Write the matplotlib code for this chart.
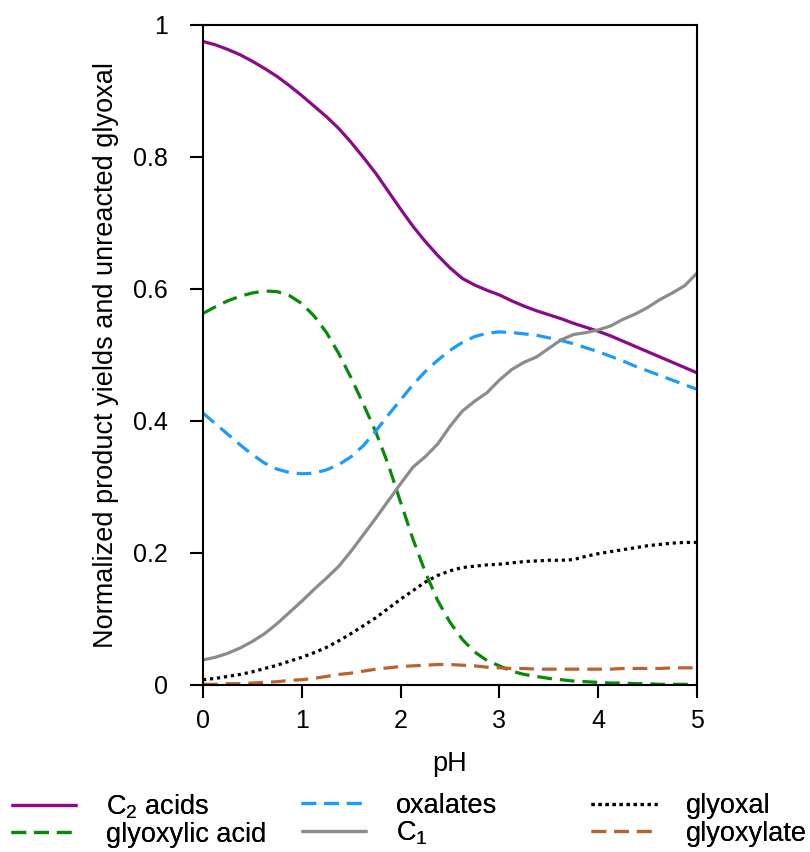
import matplotlib
matplotlib.use("Agg")
import matplotlib.pyplot as plt

plt.rcParams['font.family'] = ['Liberation Sans', 'DejaVu Sans']
plt.rcParams['mathtext.fontset'] = 'custom'
plt.rcParams['mathtext.rm'] = 'Liberation Sans'

ph = [0.0, 0.125, 0.25, 0.375, 0.5, 0.625, 0.75, 0.875, 1.0, 1.125, 1.25,
      1.375, 1.5, 1.625, 1.75, 1.875, 2.0, 2.125, 2.25, 2.375, 2.5, 2.625,
      2.75, 2.875, 3.0, 3.125, 3.25, 3.375, 3.5, 3.625, 3.75, 3.875, 4.0,
      4.125, 4.25, 4.375, 4.5, 4.625, 4.75, 4.875, 5.0]

c2_acids = [0.975, 0.970, 0.963, 0.955, 0.945, 0.934, 0.922, 0.908, 0.893,
            0.877, 0.861, 0.843, 0.822, 0.799, 0.775, 0.748, 0.721, 0.695,
            0.672, 0.651, 0.632, 0.616, 0.606, 0.598, 0.591, 0.582, 0.574,
            0.567, 0.561, 0.555, 0.548, 0.542, 0.536, 0.529, 0.521, 0.513,
            0.505, 0.497, 0.489, 0.481, 0.473]
glyoxylic_acid = [0.563, 0.573, 0.582, 0.589, 0.594, 0.597, 0.596, 0.590,
                  0.578, 0.559, 0.534, 0.502, 0.465, 0.425, 0.383, 0.334,
                  0.277, 0.221, 0.171, 0.128, 0.095, 0.069, 0.050, 0.037,
                  0.029, 0.021, 0.016, 0.013, 0.010, 0.008, 0.006, 0.005,
                  0.004, 0.003, 0.003, 0.002, 0.002, 0.001, 0.001, 0.001,
                  0.001]
oxalates = [0.412, 0.396, 0.380, 0.364, 0.349, 0.336, 0.327, 0.322, 0.320,
            0.321, 0.326, 0.334, 0.346, 0.363, 0.385, 0.409, 0.432, 0.455,
            0.475, 0.492, 0.507, 0.519, 0.528, 0.533, 0.535, 0.534, 0.532,
            0.530, 0.526, 0.522, 0.517, 0.511, 0.505, 0.498, 0.491, 0.483,
            0.476, 0.469, 0.462, 0.455, 0.448]
c1 = [0.038, 0.042, 0.048, 0.056, 0.066, 0.078, 0.093, 0.110, 0.127, 0.145,
      0.162, 0.180, 0.203, 0.228, 0.253, 0.279, 0.305, 0.330, 0.346, 0.365,
      0.392, 0.415, 0.430, 0.443, 0.462, 0.478, 0.489, 0.497, 0.510, 0.523,
      0.531, 0.534, 0.538, 0.544, 0.554, 0.562, 0.572, 0.584, 0.594, 0.605,
      0.624]
glyoxal = [0.008, 0.010, 0.013, 0.016, 0.020, 0.025, 0.030, 0.036, 0.042,
           0.049, 0.057, 0.067, 0.078, 0.090, 0.102, 0.116, 0.130, 0.143,
           0.156, 0.166, 0.173, 0.178, 0.180, 0.182, 0.183, 0.185, 0.187,
           0.188, 0.189, 0.189, 0.190, 0.195, 0.199, 0.202, 0.205, 0.208,
           0.211, 0.213, 0.215, 0.216, 0.216]
glyoxylate = [0.001, 0.001, 0.002, 0.002, 0.003, 0.004, 0.005, 0.007, 0.008,
              0.010, 0.013, 0.016, 0.018, 0.021, 0.024, 0.026, 0.028, 0.029,
              0.030, 0.031, 0.031, 0.030, 0.029, 0.027, 0.026, 0.025, 0.025,
              0.024, 0.024, 0.024, 0.024, 0.024, 0.024, 0.024, 0.025, 0.025,
              0.025, 0.025, 0.026, 0.026, 0.026]

x_ticks = [0, 1, 2, 3, 4, 5]
y_ticks = [0, 0.2, 0.4, 0.6, 0.8, 1.0]
y_tick_labels = ['0', '0.2', '0.4', '0.6', '0.8', '1']

fig = plt.figure(figsize=(8.1, 8.52), dpi=100)
ax = fig.add_axes([203/810, 1-685/852, (697-203)/810, (685-25)/852])

lw = 2.3
dash = (0, (4.6, 2.5))
kw = dict(lw=lw, solid_joinstyle='round', solid_capstyle='butt')
l1, = ax.plot(ph, c2_acids, color='#8b0a8b', label=r'C$\mathregular{_2}$ acids', **kw)
l2, = ax.plot(ph, glyoxylic_acid, color='#078a07', linestyle=dash,
              label='glyoxylic acid', **kw)
l3, = ax.plot(ph, oxalates, color='#1a9bff', linestyle=dash,
              label='oxalates', **kw)
l4, = ax.plot(ph, c1, color='#8c8c8c', label=r'C$\mathregular{_1}$', **kw)
l5, = ax.plot(ph, glyoxal, color='black', linestyle=(0, (1, 1.2)),
              label='glyoxal', **kw)
l6, = ax.plot(ph, glyoxylate, color='#b9632f', linestyle=dash,
              label='glyoxylate', **kw)

ax.set_xlim(0, 5)
ax.set_ylim(0, 1)
ax.set_xticks(x_ticks)
ax.set_yticks(y_ticks)
ax.set_yticklabels(y_tick_labels)
ax.tick_params(axis='both', direction='out', length=9.5, width=1.5,
               labelsize=18)
ax.tick_params(axis='y', pad=16)
ax.tick_params(axis='x', pad=8)
for s in ax.spines.values():
    s.set_linewidth(1.5)

ax.set_xlabel('pH', fontsize=19.5, labelpad=13)
ax.set_ylabel('Normalized product yields and unreacted glyoxal',
              fontsize=19.5, labelpad=10)

cols = [([l1, l2], 11), ([l3, l4], 301), ([l5, l6], 591)]
for hs, xpix in cols:
    leg = fig.legend(handles=hs, loc='center left',
                     bbox_to_anchor=(xpix/810, 1-820/852),
                     ncol=1, frameon=False, fontsize=19.5, handlelength=2.44,
                     handletextpad=1.07, labelspacing=0.05, borderpad=0,
                     borderaxespad=0)
    fig.add_artist(leg)

fig.savefig('out.png', dpi=100)
